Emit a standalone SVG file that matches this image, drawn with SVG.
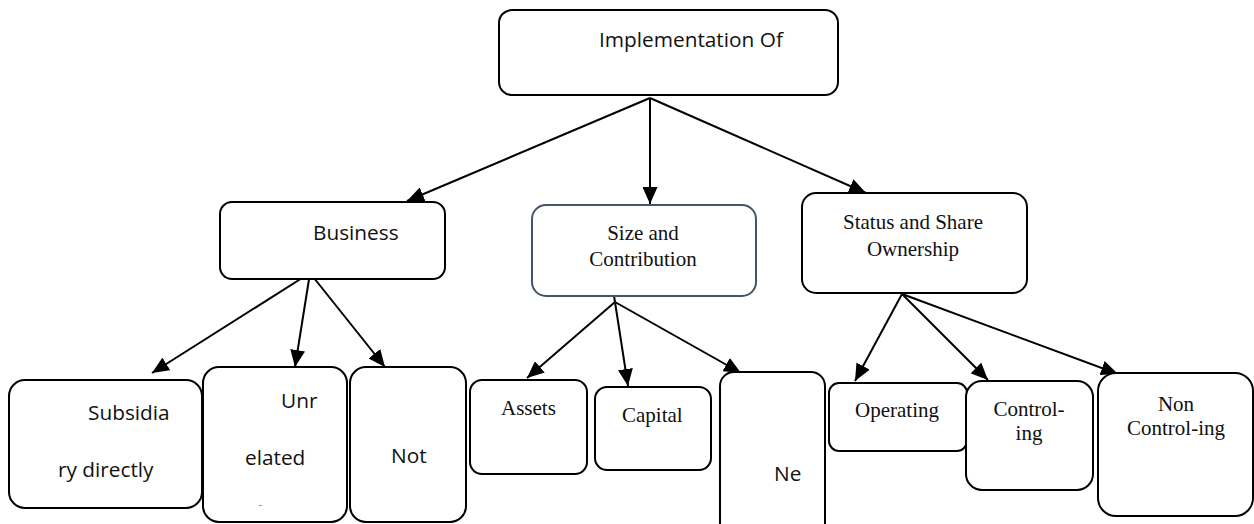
<svg xmlns="http://www.w3.org/2000/svg" width="1254" height="524" viewBox="0 0 1254 524">
<style>
.box{fill:#fff;stroke:#000;stroke-width:2}
.box2{fill:#fff;stroke:#44546a;stroke-width:2}
.sans{font-family:"Open Sans","Noto Sans","Liberation Sans",sans-serif;font-size:20.8px;fill:#111}
.serif{font-family:"Liberation Serif","Times New Roman",serif;font-size:21px;fill:#111}
.mid{text-anchor:middle}
.conn line{stroke:#000;stroke-width:2;fill:none}
</style>
<defs>
<marker id="ah" markerUnits="userSpaceOnUse" markerWidth="17" markerHeight="15" refX="17" refY="7.5" orient="auto">
<path d="M0,0 L17,7.5 L0,15 z" fill="#000"/>
</marker>
</defs>
<rect width="1254" height="524" fill="#fff"/>
<g id="connectors" class="conn">
<line x1="650" y1="98" x2="407" y2="201" marker-end="url(#ah)"/>
<line x1="650" y1="98" x2="650" y2="204" marker-end="url(#ah)"/>
<line x1="650" y1="98" x2="866" y2="193" marker-end="url(#ah)"/>
<line x1="310" y1="273" x2="152" y2="373" marker-end="url(#ah)"/>
<line x1="310" y1="273" x2="295" y2="367" marker-end="url(#ah)"/>
<line x1="310" y1="273" x2="385" y2="367" marker-end="url(#ah)"/>
<line x1="613" y1="290" x2="615" y2="302"/>
<line x1="615" y1="302" x2="527" y2="378" marker-end="url(#ah)"/>
<line x1="615" y1="302" x2="628" y2="386" marker-end="url(#ah)"/>
<line x1="615" y1="302" x2="741" y2="373" marker-end="url(#ah)"/>
<line x1="902" y1="294" x2="855" y2="381" marker-end="url(#ah)"/>
<line x1="902" y1="294" x2="988" y2="380" marker-end="url(#ah)"/>
<line x1="902" y1="294" x2="1118" y2="374" marker-end="url(#ah)"/>
</g>
<g id="implementation">
<rect class="box" x="499" y="10" width="339" height="85" rx="13"/>
<text class="sans" x="599" y="47">Implementation Of</text>
</g>
<g id="business">
<rect class="box" x="220" y="202" width="225" height="77" rx="12"/>
<text class="sans" x="313" y="240">Business</text>
</g>
<g id="size">
<rect class="box2" x="532" y="205" width="224" height="91" rx="14"/>
<text class="serif mid" x="643" y="240">Size and</text>
<text class="serif mid" x="643" y="266">Contribution</text>
</g>
<g id="status">
<rect class="box" x="802" y="193" width="225" height="100" rx="14"/>
<text class="serif mid" x="913" y="229">Status and Share</text>
<text class="serif mid" x="913" y="256">Ownership</text>
</g>
<g id="subsidiary">
<rect class="box" x="9" y="380" width="193" height="128" rx="16"/>
<text class="sans" x="88" y="420">Subsidia</text>
<text class="sans" x="58" y="477">ry directly</text>
</g>
<g id="unrelated">
<rect class="box" x="203" y="367" width="144" height="155" rx="16"/>
<text class="sans" x="281" y="408">Unr</text>
<text class="sans" x="245" y="465">elated</text>
<rect x="259" y="505" width="3" height="1" fill="#999"/>
</g>
<g id="not">
<rect class="box" x="350" y="367" width="116" height="155" rx="16"/>
<text class="sans" x="391" y="463">Not</text>
</g>
<g id="assets">
<rect class="box" x="470" y="380" width="117" height="94" rx="12"/>
<text class="serif" x="501" y="415">Assets</text>
</g>
<g id="capital">
<rect class="box" x="595" y="387" width="116" height="83" rx="12"/>
<text class="serif" x="622" y="422">Capital</text>
</g>
<g id="ne">
<rect class="box" x="720" y="372" width="105" height="170" rx="14"/>
<text class="sans" x="774" y="481">Ne</text>
</g>
<g id="operating">
<rect class="box" x="829" y="383" width="138" height="68" rx="10"/>
<text class="serif" x="855" y="417">Operating</text>
</g>
<g id="controlling">
<rect class="box" x="966" y="381" width="127" height="109" rx="16"/>
<text class="serif mid" x="1029" y="416">Control-</text>
<text class="serif mid" x="1029" y="440">ing</text>
</g>
<g id="noncontrolling">
<rect class="box" x="1098" y="373" width="155" height="143" rx="18"/>
<text class="serif mid" x="1176" y="411">Non</text>
<text class="serif mid" x="1176" y="435">Control-ing</text>
</g>
</svg>
